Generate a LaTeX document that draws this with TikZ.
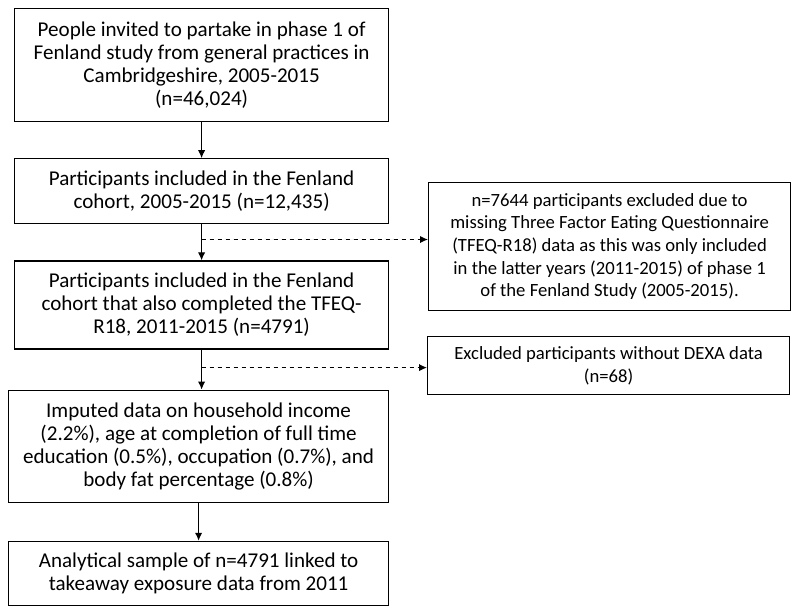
\documentclass[tikz,border=0pt]{standalone}
\usepackage{fontspec}
\setmainfont{Carlito}
\usetikzlibrary{arrows.meta,positioning,calc}
\tikzset{
  flowbox/.style={draw, line width=0.9pt, align=center, inner xsep=3pt, inner ysep=3pt, font=\fontsize{15.8pt}{17.3pt}\selectfont},
  sidebox/.style={flowbox, font=\fontsize{14pt}{17pt}\selectfont},
  flowarrow/.style={-{Latex[length=6pt,width=5.5pt]}, line width=0.9pt},
  flowdash/.style={-{Latex[length=6pt,width=5.5pt]}, line width=0.9pt, dash pattern=on 3.5pt off 2.5pt}
}
\begin{document}
\begin{tikzpicture}
\useasboundingbox (0,0) rectangle (600pt,-456.75pt);
\node[flowbox, anchor=north west, minimum width=280.5pt, minimum height=84.75pt] (invited) at (10.5pt,-6pt) {People invited to partake in phase 1 of\\Fenland study from general practices in\\Cambridgeshire, 2005-2015\\(n=46,024)};
\node[flowbox, below=27pt of invited, minimum width=280.5pt, minimum height=48.75pt] (cohort) {Participants included in the Fenland\\cohort, 2005-2015 (n=12,435)};
\node[flowbox, below=27pt of cohort, minimum width=280.5pt, minimum height=66pt] (tfeq) {Participants included in the Fenland\\cohort that also completed the TFEQ-\\R18, 2011-2015 (n=4791)};
\node[flowbox, below=30pt of tfeq, xshift=-2.25pt, minimum width=285pt, minimum height=84pt] (imputed) {Imputed data on household income\\(2.2\%), age at completion of full time\\education (0.5\%), occupation (0.7\%), and\\body fat percentage (0.8\%)};
\node[flowbox, below=28.5pt of imputed, minimum width=285pt, minimum height=48pt] (sample) {Analytical sample of n=4791 linked to\\takeaway exposure data from 2011};
\node[sidebox, anchor=north west, minimum width=271.5pt, minimum height=96pt] (nofeq) at (321pt,-136.5pt) {n=7644 participants excluded due to\\missing Three Factor Eating Questionnaire\\(TFEQ-R18) data as this was only included\\in the latter years (2011-2015) of phase 1\\of the Fenland Study (2005-2015).};
\node[sidebox, anchor=north west, minimum width=271.5pt, minimum height=43.5pt] (nodexa) at (320.25pt,-252pt) {Excluded participants without DEXA data\\(n=68)};
% branch points on the main arrows
\coordinate (split1) at ($(cohort.south)!0.42!(tfeq.north)$);
\coordinate (split2) at ($(tfeq.south)!0.45!(tfeq.south |- imputed.north)$);
\draw[flowarrow] (invited) -- (cohort);
\draw[flowarrow] (cohort) -- (tfeq);
\draw[flowarrow] (tfeq.south) -- (tfeq.south |- imputed.north);
\draw[flowarrow] (imputed) -- (sample);
\draw[flowdash] (split1) -- (split1 -| nofeq.west);
\draw[flowdash] (split2) -- (split2 -| nodexa.west);
\end{tikzpicture}
\end{document}
